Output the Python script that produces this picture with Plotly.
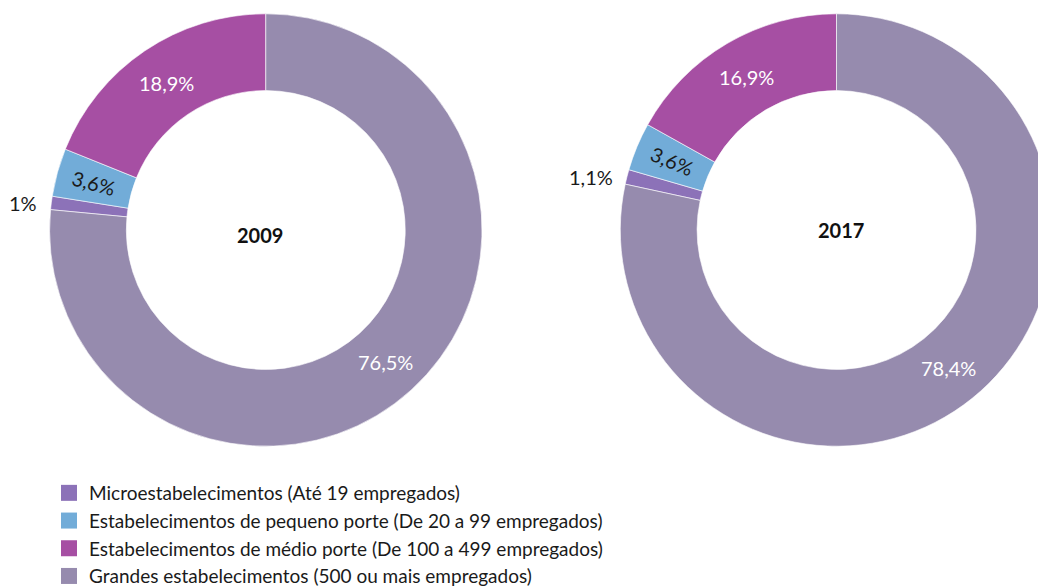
import math
import plotly.graph_objects as go

categories = [
    "Microestabelecimentos (Até 19 empregados)",
    "Estabelecimentos de pequeno porte (De 20 a 99 empregados)",
    "Estabelecimentos de médio porte (De 100 a 499 empregados)",
    "Grandes estabelecimentos (500 ou mais empregados)",
]
years = ["2009", "2017"]
values_2009 = [1.0, 3.6, 18.9, 76.5]
values_2017 = [1.1, 3.6, 16.9, 78.4]
labels_2009 = ["1%", "3,6%", "18,9%", "76,5%"]
labels_2017 = ["1,1%", "3,6%", "16,9%", "78,4%"]

colors = ["#8c72b8", "#72acd8", "#a64fa3", "#968bae"]
label_colors = ["#1a1a1a", "#1a1a1a", "#ffffff", "#ffffff"]
FONT = "Lato"

W, H = 1046, 587
OFF = 8  # page body margin
HOLE = 0.645
# donut centers / radius in page pixels, plus small year-label nudges
pies = [
    dict(vals=values_2009, labs=labels_2009, year=years[0], cx=265.8, cy=230, R=216.2,
         ydx=-6, ydy=4.5),
    dict(vals=values_2017, labs=labels_2017, year=years[1], cx=836.5, cy=230, R=216.2,
         ydx=4.5, ydy=0),
]

fig = go.Figure()
annotations = []
for i, p in enumerate(pies):
    R = p["R"]
    cx, cy = p["cx"] - OFF, p["cy"] - OFF
    x0 = max((cx - R) / W, 0.0)
    x1 = min((cx + R) / W, 1.0)
    y0 = 1 - (cy + R) / H
    y1 = 1 - (cy - R) / H
    total = sum(p["vals"])
    rot = 360 * p["vals"][-1] / total
    fig.add_trace(go.Pie(
        labels=categories, values=p["vals"], hole=HOLE, sort=False,
        direction="clockwise", rotation=rot,
        marker=dict(colors=colors, line=dict(color="white", width=0.6)),
        textinfo="none", hoverinfo="label+percent",
        domain=dict(x=[x0, x1], y=[y0, y1]),
        showlegend=False, name=p["year"],
    ))
    annotations.append(dict(
        x=(cx + p["ydx"]) / W, y=1 - (cy + p["ydy"]) / H, xref="paper", yref="paper",
        text="<b>%s</b>" % p["year"], xanchor="center", yanchor="middle",
        showarrow=False, font=dict(family=FONT, size=20, color="#111111"),
    ))
    cum = rot
    rin = R * HOLE
    for k, v in enumerate(p["vals"]):
        ang = cum + 360 * v / total / 2
        cum += 360 * v / total
        th = math.radians(ang)
        if k == 0:
            r = R
            ann = dict(xanchor="right", xshift=-12)
            ta = 0
        else:
            r = (R + rin) / 2
            ann = dict(xanchor="center")
            ta = (ang % 360) - 270 if k == 1 else 0
        annotations.append(dict(
            x=(cx + r * math.sin(th)) / W, y=1 - (cy - r * math.cos(th)) / H,
            xref="paper", yref="paper", text=p["labs"][k], showarrow=False,
            yanchor="middle", textangle=ta,
            font=dict(family=FONT, size=20, color=label_colors[k]), **ann,
        ))

# legend entries (square swatches)
for c, name in zip(colors, categories):
    fig.add_trace(go.Scatter(
        x=[None], y=[None], mode="markers", name=name,
        marker=dict(symbol="square", size=16, color=c), showlegend=True,
        hoverinfo="skip",
    ))

fig.update_layout(
    width=W, height=H, margin=dict(l=0, r=0, t=0, b=0),
    paper_bgcolor="white", plot_bgcolor="white",
    font=dict(family=FONT, size=19, color="#1a1a1a"),
    annotations=annotations,
    xaxis=dict(visible=False), yaxis=dict(visible=False),
    legend=dict(x=41 / W, y=0.0, xanchor="left", yanchor="bottom",
                font=dict(family=FONT, size=19, color="#1a1a1a"),
                traceorder="normal", itemclick=False, itemsizing="trace",
                bgcolor="rgba(0,0,0,0)"),
)
fig.write_html("out.html")
